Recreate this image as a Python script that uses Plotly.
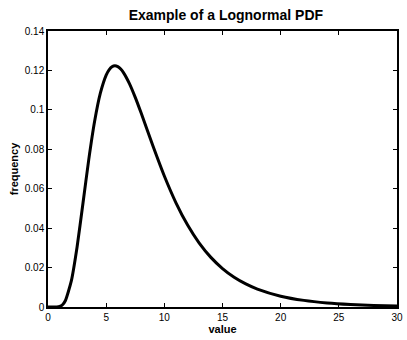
import plotly.graph_objects as go

x_vals = [0, 0.5, 0.75, 1, 1.25, 1.5, 2, 2.5, 3, 3.5, 4, 4.5, 5, 5.25, 5.5, 5.75, 6, 6.25,
          6.5, 7, 7.5, 8, 9, 10, 11, 12, 13, 14, 15, 16, 17, 18, 20, 22, 24, 26, 28, 30]
freq = [0, 0.0000008, 0.00003, 0.000268, 0.001156, 0.00329, 0.0131, 0.03048, 0.05237,
        0.07463, 0.09392, 0.10843, 0.11762, 0.12031, 0.12185, 0.12236, 0.12194, 0.1207,
        0.11878, 0.11332, 0.10634, 0.09849, 0.08202, 0.06644, 0.05285, 0.04155, 0.03242,
        0.02518, 0.01951, 0.01511, 0.01171, 0.00908, 0.00549, 0.003355, 0.002071,
        0.001294, 0.000819, 0.000524]

x_ticks = [0, 5, 10, 15, 20, 25, 30]
y_ticks = [0, 0.02, 0.04, 0.06, 0.08, 0.1, 0.12, 0.14]
y_labels = ["0", "0.02", "0.04", "0.06", "0.08", "0.1", "0.12", "0.14"]

fig = go.Figure()
fig.add_trace(go.Scatter(x=x_vals, y=freq, mode="lines",
                         line=dict(color="black", width=3, shape="spline", smoothing=0.5),
                         hoverinfo="skip", showlegend=False))

font = "Liberation Sans, Arial, sans-serif"
axis_common = dict(showgrid=False, zeroline=False, showline=True, linecolor="black",
                   linewidth=1.5, mirror="ticks", ticks="inside", ticklen=4,
                   tickwidth=1, tickcolor="black",
                   tickfont=dict(family=font, size=10, color="black"))

fig.update_layout(
    width=407, height=340,
    margin=dict(l=48, r=4, t=31, b=33),
    paper_bgcolor="white", plot_bgcolor="white",
    title=dict(text="<b>Example of a Lognormal PDF</b>", x=0.555, xanchor="center",
               y=0.955, yanchor="middle",
               font=dict(family=font, size=14, color="black")),
    xaxis=dict(range=[0, 30], tickvals=x_ticks, ticktext=[str(t) for t in x_ticks],
               title=dict(text="<b>value</b>", standoff=2,
                          font=dict(family=font, size=11, color="black")),
               **axis_common),
    yaxis=dict(range=[0, 0.14], tickvals=y_ticks, ticktext=y_labels,
               title=dict(text="<b>frequency</b>", standoff=4,
                          font=dict(family=font, size=11, color="black")),
               **axis_common),
)

fig.write_html("out.html")
